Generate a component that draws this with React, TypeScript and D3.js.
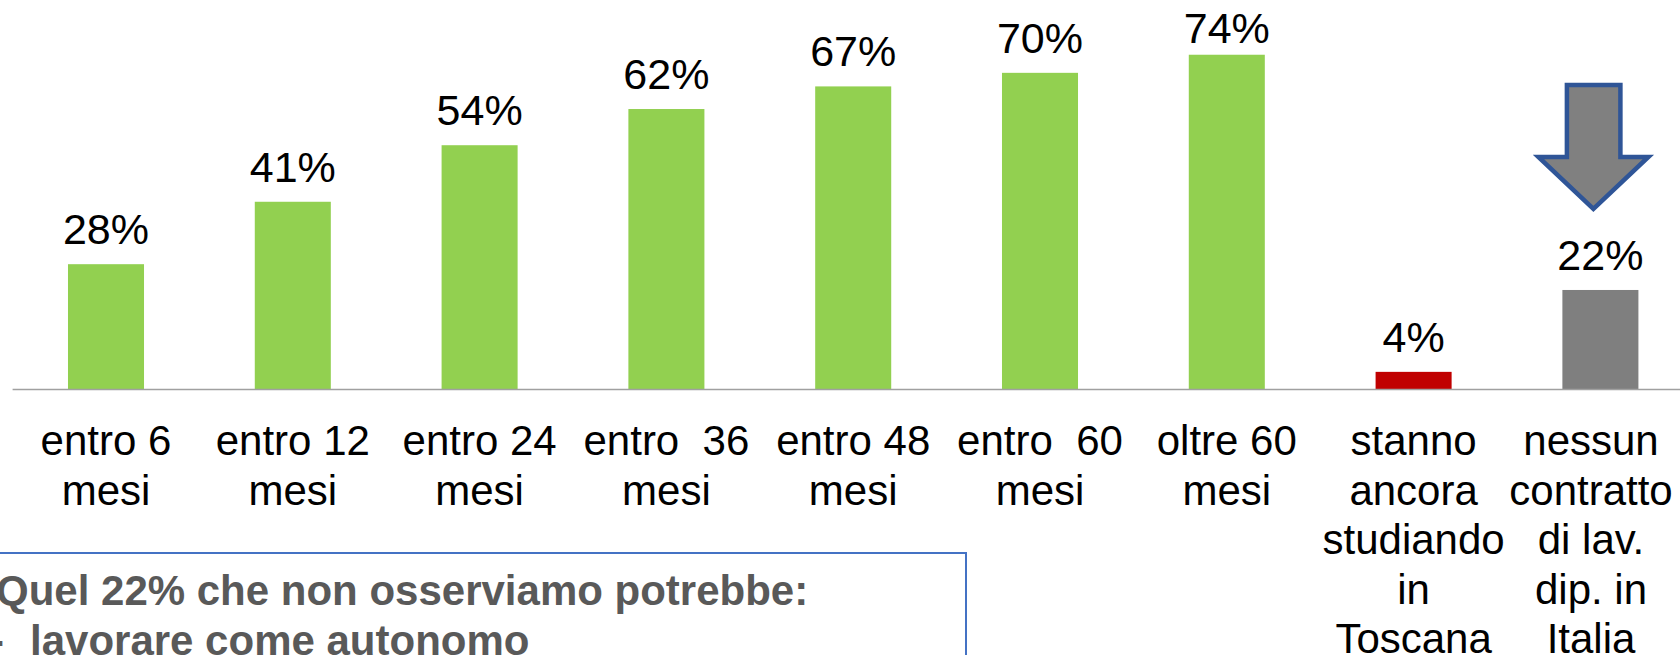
import React from "react";
import * as d3 from "d3";

// ---- data ----
const categories: string[][] = [
  ["entro 6", "mesi"],
  ["entro 12", "mesi"],
  ["entro 24", "mesi"],
  ["entro  36", "mesi"],
  ["entro 48", "mesi"],
  ["entro  60", "mesi"],
  ["oltre 60", "mesi"],
  ["stanno", "ancora", "studiando", "in", "Toscana"],
  ["nessun", "contratto", "di lav.", "dip. in", "Italia"],
];
const values: number[] = [27.7, 41.5, 54, 62, 67, 70, 74, 3.9, 22];
const valueLabels: string[] = ["28%", "41%", "54%", "62%", "67%", "70%", "74%", "4%", "22%"];
const barColors: string[] = [
  "#92D050", "#92D050", "#92D050", "#92D050", "#92D050", "#92D050", "#92D050",
  "#C00000", "#7F7F7F",
];
const noteTitle = "Quel 22% che non osserviamo potrebbe:";
const noteBullets: string[] = ["lavorare come autonomo"];

const W = 1680;
const H = 655;
const FONT = "'Liberation Sans', Arial, sans-serif";

export default function App() {
  const baseline = 389.5;
  const x = d3
    .scaleBand<number>()
    .domain(values.map((_, i) => i))
    .range([12.6, 1693.8])
    .paddingInner(0.593)
    .paddingOuter(0.2965);
  const y = d3.scaleLinear().domain([0, 86.1]).range([baseline, 0]);
  const bw = x.bandwidth();
  const labelTop = 43;
  const lineH = 49.5;
  const catFirstBaseline = 455;

  const lastIdx = values.length - 1;
  const lastCx = (x(lastIdx) as number) + bw / 2;
  // arrow annotation above the last bar
  const ax = lastCx - 7;
  const arrowPath = [
    [ax - 26.5, 85],
    [ax + 27, 85],
    [ax + 27, 157],
    [ax + 55, 157],
    [ax, 209],
    [ax - 55, 157],
    [ax - 26.5, 157],
  ]
    .map((p, i) => (i === 0 ? "M" : "L") + p[0] + "," + p[1])
    .join("") + "Z";

  return (
    <svg
      width={W}
      height={H}
      style={{ position: "absolute", left: 0, top: 0, background: "#fff" }}
      fontFamily={FONT}
    >
      {/* bars */}
      {values.map((v, i) => (
        <rect
          key={"b" + i}
          x={x(i)}
          y={y(v)}
          width={bw}
          height={baseline - y(v)}
          fill={barColors[i]}
        />
      ))}
      {/* axis line */}
      <line x1={12.6} x2={W} y1={baseline} y2={baseline} stroke="#A0A0A0" strokeWidth={1.6} />
      {/* value labels */}
      {values.map((v, i) => (
        <text
          key={"v" + i}
          x={(x(i) as number) + bw / 2}
          y={Math.max(y(v) - 20, labelTop)}
          textAnchor="middle"
          fontSize={43}
          fill="#000"
        >
          {valueLabels[i]}
        </text>
      ))}
      {/* category labels */}
      {categories.map((lines, i) => {
        const cx = Math.min((x(i) as number) + bw / 2, W - 89);
        return (
          <text
            key={"c" + i}
            textAnchor="middle"
            fontSize={42}
            fill="#000"
            style={{ whiteSpace: "pre" }}
          >
            {lines.map((l, j) => (
              <tspan key={j} x={cx} y={catFirstBaseline + j * lineH}>
                {l}
              </tspan>
            ))}
          </text>
        );
      })}
      {/* arrow */}
      <path d={arrowPath} fill="#808080" stroke="#2F5597" strokeWidth={4.5} strokeLinejoin="miter" />
      {/* note box */}
      <rect x={-10} y={553} width={976} height={200} fill="none" stroke="#4472C4" strokeWidth={2} />
      <text x={-4} y={605} fontSize={42} fontWeight="bold" fill="#595959">
        {noteTitle}
      </text>
      {noteBullets.map((b, i) => (
        <g key={"n" + i}>
          <text x={-10} y={655 + i * 50} fontSize={42} fontWeight="bold" fill="#595959">
            -
          </text>
          <text x={30} y={655 + i * 50} fontSize={42} fontWeight="bold" fill="#595959">
            {b}
          </text>
        </g>
      ))}
    </svg>
  );
}
